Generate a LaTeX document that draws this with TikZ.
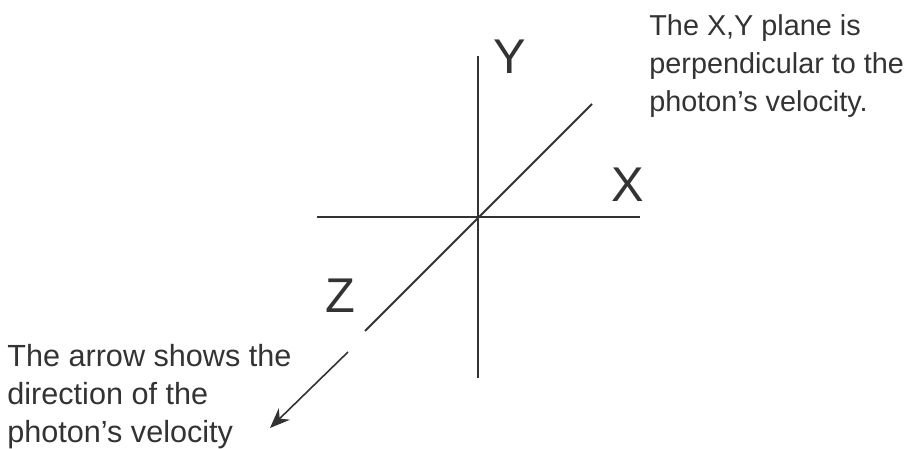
\documentclass[tikz,border=0pt]{standalone}
\usepackage{fontspec}
\setmainfont{Liberation Sans}
\usepackage{xcolor}
\usetikzlibrary{arrows.meta, positioning}
\definecolor{ink}{RGB}{51, 51, 51}

\begin{document}
\begin{tikzpicture}[
    x=0.5pt, y=-0.5pt,
    axis/.style={draw=ink, line width=1pt},
    axislabel/.style={text=ink, inner sep=0pt, font=\fontsize{24.4}{28}\selectfont},
    note/.style={text=ink, inner sep=0pt, align=left, anchor=north west, font=\fontsize{15.3}{19}\selectfont},
    arrow/.style={-{Stealth[length=10pt, width=8pt]}, ink, line width=0.8pt}
]
    \useasboundingbox (0,0) rectangle (912,449);

    % axes
    \coordinate (origin) at (478,217);
    \coordinate (ytop) at (478,56);
    \coordinate (ybot) at (478,378);
    \coordinate (xleft) at (317,217);
    \coordinate (xright) at (640,217);
    \coordinate (ztop) at (592,104);
    \coordinate (zbot) at (365,331);
    \draw[axis] (ybot) -- (ytop);
    \draw[axis] (xleft) -- (xright);
    \draw[axis] (zbot) -- (ztop);

    \node[axislabel] (ylab) at (510,57) {Y};
    \node[axislabel] (xlab) at (628,185) {X};
    \node[axislabel] (zlab) at (340,296) {Z};

    % velocity arrow
    \coordinate (vstart) at (348,352);
    \coordinate (vtip) at (270,428);
    \draw[arrow] (vstart) -- (vtip);

    \node[note, font=\fontsize{14.4}{19}\selectfont] (plane) at (649,14) {The X,Y plane is\\perpendicular to the\\photon’s velocity.};
    \node[note] (dir) at (7,344) {The arrow shows the\\direction of the\\photon’s velocity};
\end{tikzpicture}
\end{document}
